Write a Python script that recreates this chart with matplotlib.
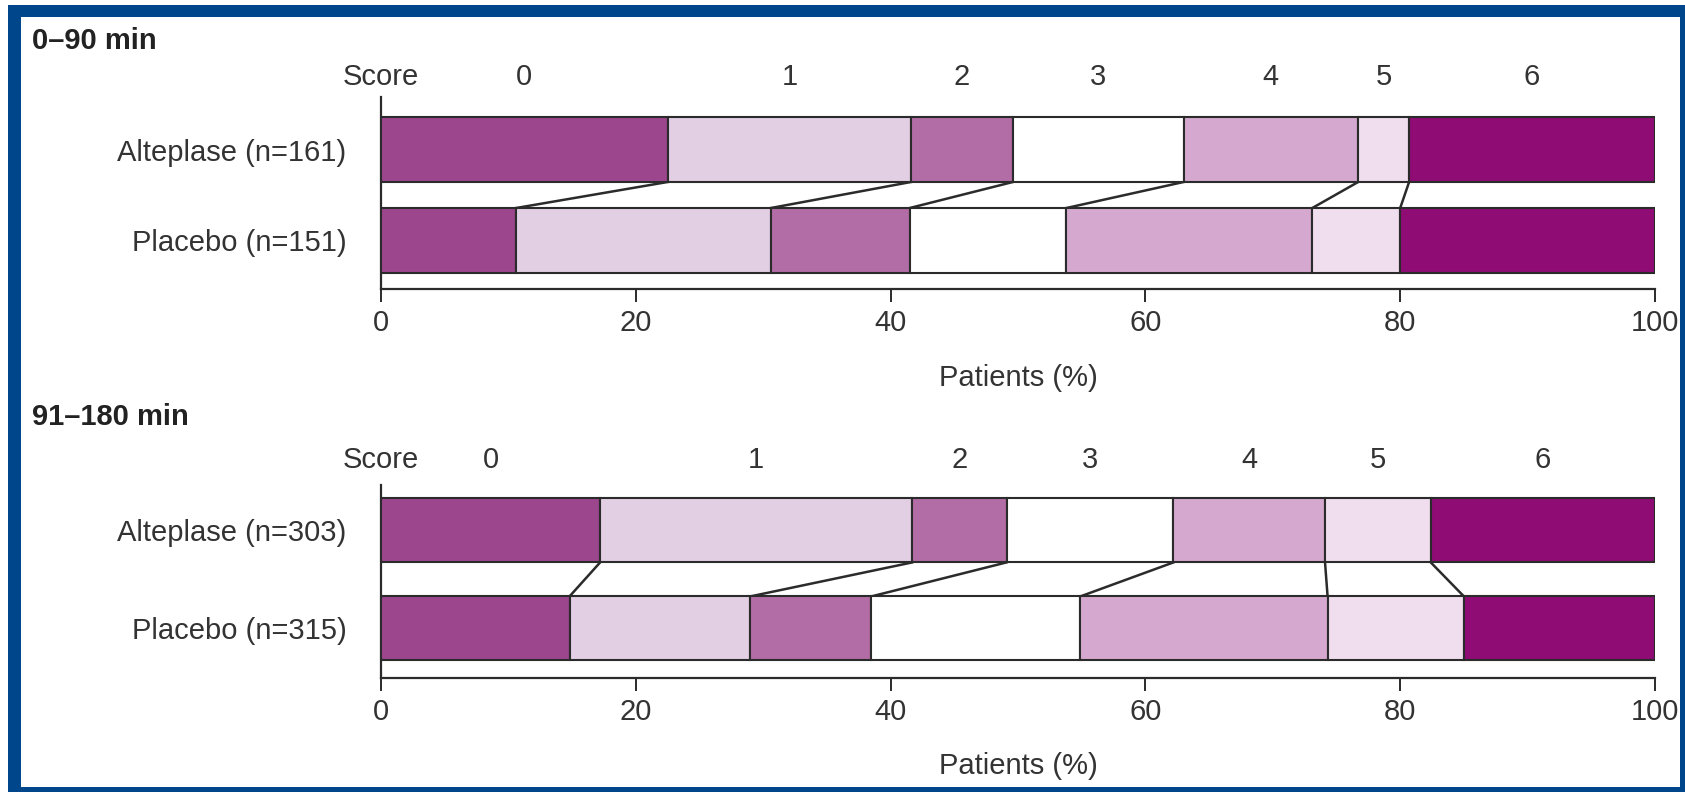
import numpy as np
import matplotlib
matplotlib.use("Agg")
import matplotlib.pyplot as plt
from matplotlib.patches import Rectangle

plt.rcParams['font.family'] = ['Liberation Sans', 'DejaVu Sans']

# modified Rankin score distribution, % of patients
scores = ['0', '1', '2', '3', '4', '5', '6']
early_alteplase = [22.5, 19.1, 8.0, 13.4, 13.7, 4.0, 19.3]
early_placebo = [10.6, 20.0, 10.9, 12.3, 19.3, 6.9, 20.0]
late_alteplase = [17.2, 24.5, 7.4, 13.1, 11.9, 8.3, 17.6]
late_placebo = [14.8, 14.2, 9.5, 16.4, 19.4, 10.7, 15.0]
early_groups = ['Placebo (n=151)', 'Alteplase (n=161)']
late_groups = ['Placebo (n=315)', 'Alteplase (n=303)']
xticks = [0, 20, 40, 60, 80, 100]

colors = ['#9c468e', '#e3cfe4', '#b26ca6', '#ffffff', '#d5a9cf', '#f0deef', '#8e0c74']
edge = '#2b2b2b'
txt = '#333333'
fs = 21

W, H = 1685, 792
fig = plt.figure(figsize=(W / 100, H / 100), dpi=100)

# blue frame, kept behind the axes
fig.patches.append(Rectangle((8 / W, 0), 1 - 8 / W, 1 - 5 / H, transform=fig.transFigure,
                             facecolor='#00468b', edgecolor='none', zorder=-10))
fig.patches.append(Rectangle((21 / W, 5 / H), (1680 - 21) / W, (787 - 17) / H, transform=fig.transFigure,
                             facecolor='white', edgecolor='none', zorder=-9))


def px_axes(left, top, right, bottom):
    ax = fig.add_axes([left / W, 1 - bottom / H, (right - left) / W, (bottom - top) / H])
    ax.set_facecolor('none')
    return ax


def draw_panel(ax, alteplase, placebo, groups, bar_h, ylim, score_off, xlab_off):
    rows = [np.array(placebo), np.array(alteplase)]
    for y, vals in enumerate(rows):
        lefts = np.cumsum(vals) - vals
        ax.barh(y, vals, left=lefts, height=bar_h, color=colors,
                edgecolor=edge, linewidth=1.5, zorder=3)
    # join matching score boundaries between the two bars
    cum_a = np.cumsum(alteplase)[:-1]
    cum_p = np.cumsum(placebo)[:-1]
    for a, p in zip(cum_a, cum_p):
        ax.plot([a, p], [1 - bar_h / 2, bar_h / 2], color=edge, lw=1.8, zorder=2)

    ax.set_xlim(0, 100)
    ax.set_ylim(*ylim)
    ax.set_yticks([0, 1])
    ax.set_yticklabels(groups)
    ax.set_xticks(xticks)
    for s in ['top', 'right']:
        ax.spines[s].set_visible(False)
    for s in ['left', 'bottom']:
        ax.spines[s].set_linewidth(1.6)
        ax.spines[s].set_color(edge)
    ax.tick_params(axis='x', direction='out', length=9.5, width=1.4, color=edge,
                   labelsize=fs, labelcolor=txt, pad=5)
    ax.tick_params(axis='y', length=0, pad=25, labelsize=fs, labelcolor=txt)

    mids = np.cumsum(alteplase) - np.array(alteplase) / 2
    for s, m in zip(scores, mids):
        ax.annotate(s, xy=(m, 1), xycoords=('data', 'axes fraction'),
                    xytext=(0, score_off), textcoords='offset points',
                    ha='center', va='center', fontsize=fs, color=txt)
    ax.annotate('Score', xy=(0, 1), xycoords=('data', 'axes fraction'),
                xytext=(0, score_off), textcoords='offset points',
                ha='center', va='center', fontsize=fs, color=txt)
    ax.annotate('Patients (%)', xy=(50, 0), xycoords=('data', 'axes fraction'),
                xytext=(0, -xlab_off), textcoords='offset points',
                ha='center', va='center', fontsize=fs, color=txt)


ax1 = px_axes(381, 97, 1655, 289)
draw_panel(ax1, early_alteplase, early_placebo, early_groups, 0.714, (-0.533, 1.577), 14.5, 64)
ax2 = px_axes(381, 485, 1655, 678)
draw_panel(ax2, late_alteplase, late_placebo, late_groups, 0.653, (-0.507, 1.464), 18, 63)

fig.text(32 / W, 1 - 41 / H, '0–90 min', fontsize=21, fontweight='bold', color='#222222',
         ha='left', va='center')
fig.text(32 / W, 1 - 417 / H, '91–180 min', fontsize=21, fontweight='bold', color='#222222',
         ha='left', va='center')

fig.savefig('out.png', dpi=100)
